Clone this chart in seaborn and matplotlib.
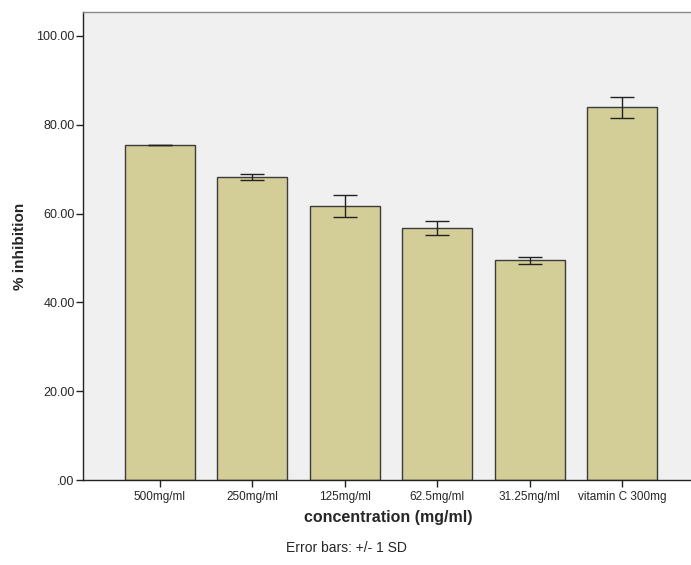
import matplotlib
matplotlib.use("Agg")
import matplotlib.pyplot as plt
import seaborn as sns
import pandas as pd

# values
categories = ["500mg/ml", "250mg/ml", "125mg/ml", "62.5mg/ml", "31.25mg/ml", "vitamin C 300mg"]
inhibition = [75.45, 68.3, 61.8, 56.7, 49.5, 83.9]
sd = [0.1, 0.7, 2.5, 1.6, 0.8, 2.3]

df = pd.DataFrame({"concentration": categories, "inhibition": inhibition})

sns.set_style("white")
plt.rcParams["font.family"] = ["Liberation Sans", "DejaVu Sans"]

fig = plt.figure(figsize=(6.91, 5.65), dpi=100)
ax = fig.add_axes([0.120, 0.150, 0.885, 0.829])
ax.set_facecolor("#f0f0f0")

sns.barplot(data=df, x="concentration", y="inhibition", color="#d3ce97",
            saturation=1, width=0.76, edgecolor="#3c3c3c", linewidth=1.0,
            errorbar=None, ax=ax)
ax.errorbar(categories, inhibition, yerr=sd, fmt="none", ecolor="#222222",
            elinewidth=1.0, capsize=8.3, capthick=1.0)

ax.set_ylim(0, 105.4)
ax.set_xlim(-0.83, 5.78)
ax.set_yticks([0, 20, 40, 60, 80, 100])
ax.set_yticklabels([".00", "20.00", "40.00", "60.00", "80.00", "100.00"])

ax.tick_params(axis="both", direction="out", length=5, width=1, color="#222222",
               labelsize=9, pad=1, left=True, bottom=True)
ax.tick_params(axis="x", labelsize=8.5, pad=3)

for side in ["left", "bottom"]:
    ax.spines[side].set_color("#222222")
    ax.spines[side].set_linewidth(1.0)
ax.spines["top"].set_color("#8a8a8a")
ax.spines["top"].set_linewidth(1.0)
ax.spines["right"].set_visible(False)

ax.set_xlabel("concentration (mg/ml)", fontsize=11.5, fontweight="bold", labelpad=5)
ax.set_ylabel("% inhibition", fontsize=11, fontweight="bold", labelpad=6.5)

fig.text(0.502, 0.030, "Error bars: +/- 1 SD", ha="center", va="center", fontsize=10)

fig.savefig("out.png", dpi=100)
